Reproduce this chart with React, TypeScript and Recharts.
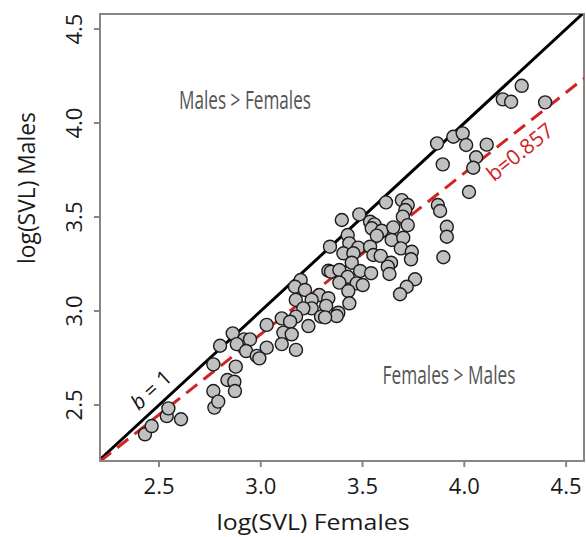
import {
  ScatterChart,
  Scatter,
  XAxis,
  YAxis,
  ReferenceLine,
  ReferenceArea,
  Customized
} from "recharts";

// log(SVL) per species
const femalesSVL = [
  4.282, 4.189, 4.23, 4.397, 3.866, 3.946, 3.992, 4.009, 4.11, 4.058,
  4.044, 3.894, 4.023, 3.615, 3.693, 3.722, 3.71, 3.698, 3.722, 3.87,
  3.881, 3.914, 3.914, 3.897, 3.484, 3.398, 3.537, 3.558, 3.545, 3.594,
  3.651, 3.57, 3.643, 3.7, 3.688, 3.742, 3.738, 3.427, 3.435, 3.479,
  3.34, 3.406, 3.455, 3.537, 3.553, 3.589, 3.447, 3.64, 3.624, 3.632,
  3.758, 3.717, 3.684, 3.332, 3.345, 3.386, 3.488, 3.542, 3.427, 3.386,
  3.471, 3.501, 3.43, 3.196, 3.168, 3.217, 3.288, 3.332, 3.25, 3.172,
  3.435, 3.321, 3.25, 3.209, 3.381, 3.373, 3.296, 3.316, 3.173, 3.103,
  3.144, 3.234, 3.029, 3.111, 3.152, 3.103, 3.173, 3.029, 2.862, 2.918,
  2.947, 2.882, 2.8, 2.928, 2.98, 2.993, 2.767, 2.877, 2.836, 2.87,
  2.873, 2.767, 2.431, 2.464, 2.538, 2.546, 2.608, 2.772, 2.791
];
const malesSVL = [
  4.198, 4.126, 4.113, 4.11, 3.892, 3.927, 3.945, 3.883, 3.885, 3.818,
  3.762, 3.78, 3.633, 3.578, 3.59, 3.564, 3.537, 3.502, 3.457, 3.564,
  3.532, 3.448, 3.395, 3.286, 3.514, 3.484, 3.475, 3.461, 3.44, 3.427,
  3.445, 3.401, 3.378, 3.39, 3.333, 3.315, 3.275, 3.404, 3.36, 3.337,
  3.342, 3.307, 3.307, 3.342, 3.298, 3.293, 3.257, 3.257, 3.236, 3.197,
  3.169, 3.129, 3.089, 3.214, 3.209, 3.218, 3.213, 3.201, 3.182, 3.151,
  3.147, 3.138, 3.106, 3.165, 3.129, 3.112, 3.085, 3.068, 3.059, 3.059,
  3.041, 3.027, 3.014, 3.014, 2.991, 2.973, 2.97, 2.966, 2.97, 2.961,
  2.943, 2.92, 2.926, 2.885, 2.876, 2.824, 2.793, 2.805, 2.881, 2.849,
  2.849, 2.824, 2.815, 2.787, 2.761, 2.748, 2.716, 2.704, 2.633, 2.624,
  2.574, 2.574, 2.344, 2.388, 2.441, 2.482, 2.424, 2.486, 2.518
];
const axisTicks = [2.5, 3.0, 3.5, 4.0, 4.5];
const xDomain = [2.21, 4.588];
const yDomain = [2.202, 4.58];
const fitSlope = 0.857;
const fitIntercept = 0.306;

const points = femalesSVL.map((x, i) => ({ x, y: malesSVL[i] }));

const FONT = "'Open Sans', sans-serif";
const AXIS = "#8a8585";
const RED = "#d02424";

function Dot(props: any) {
  const { cx, cy } = props;
  return <circle cx={cx} cy={cy} r={6.5} fill="#c0c0c0" stroke="#1c1c1c" strokeWidth={1.4} />;
}

function XTick(props: any) {
  const { x, y, payload } = props;
  return (
    <text x={x} y={y + 25} textAnchor="middle" fontFamily={FONT} fontSize={22} fill="#1a1a1a">
      {payload.value.toFixed(1)}
    </text>
  );
}

function YTick(props: any) {
  const { x, y, payload } = props;
  const cx = x - 18;
  return (
    <text
      x={cx}
      y={y}
      dy="0.36em"
      transform={`rotate(-90, ${cx}, ${y})`}
      textAnchor="middle"
      fontFamily={FONT}
      fontSize={22}
      fill="#1a1a1a"
    >
      {payload.value.toFixed(1)}
    </text>
  );
}

function Annotations() {
  return (
    <g fontFamily={FONT}>
      <text x={313} y={530} textAnchor="middle" fontSize={22} fill="#1a1a1a" textLength={193} lengthAdjust="spacingAndGlyphs">
        log(SVL) Females
      </text>
      <text
        x={28}
        y={188}
        dy="0.3em"
        transform="rotate(-90, 28, 188)"
        textAnchor="middle"
        fontSize={23}
        fill="#1a1a1a"
        textLength={152}
        lengthAdjust="spacingAndGlyphs"
      >
        log(SVL) Males
      </text>
      <text x={245} y={109} textAnchor="middle" fontSize={26} fill="#555" textLength={132} lengthAdjust="spacingAndGlyphs">
        Males &gt; Females
      </text>
      <text x={449} y={384} textAnchor="middle" fontSize={26} fill="#555" textLength={133} lengthAdjust="spacingAndGlyphs">
        Females &gt; Males
      </text>
      <text x={151} y={390} dy="0.35em" transform="rotate(-42.7, 151, 390)" textAnchor="middle" fontSize={21} fill="#111">
        <tspan fontStyle="italic">b</tspan> = 1
      </text>
      <text x={520} y={152} dy="0.35em" transform="rotate(-38.6, 520, 152)" textAnchor="middle" fontSize={21} fill={RED}>
        b=0.857
      </text>
    </g>
  );
}

export default function App() {
  return (
    <div style={{ position: "absolute", left: 0, top: 0, width: 586, height: 537, background: "#fff" }}>
      <ScatterChart width={586} height={537} margin={{ top: 14, right: 2, bottom: 0, left: 0 }}>
        <XAxis
          type="number"
          dataKey="x"
          domain={xDomain}
          ticks={axisTicks}
          allowDataOverflow
          height={76}
          axisLine={{ stroke: AXIS, strokeWidth: 2 }}
          tickLine={{ stroke: AXIS, strokeWidth: 2 }}
          tickSize={6}
          tick={<XTick />}
        />
        <YAxis
          type="number"
          dataKey="y"
          domain={yDomain}
          ticks={axisTicks}
          allowDataOverflow
          width={100}
          axisLine={{ stroke: AXIS, strokeWidth: 2 }}
          tickLine={{ stroke: AXIS, strokeWidth: 2 }}
          tickSize={6}
          tick={<YTick />}
        />
        <ReferenceArea
          x1={xDomain[0]}
          x2={xDomain[1]}
          y1={yDomain[0]}
          y2={yDomain[1]}
          fill="none"
          stroke={AXIS}
          strokeWidth={2}
          ifOverflow="visible"
        />
        <ReferenceLine
          segment={[
            { x: xDomain[0], y: xDomain[0] },
            { x: yDomain[1], y: yDomain[1] }
          ]}
          stroke="#000"
          strokeWidth={3}
          ifOverflow="hidden"
        />
        <ReferenceLine
          segment={[
            { x: xDomain[0], y: fitSlope * xDomain[0] + fitIntercept },
            { x: xDomain[1], y: fitSlope * xDomain[1] + fitIntercept }
          ]}
          stroke={RED}
          strokeWidth={3}
          strokeDasharray="14 8"
          ifOverflow="hidden"
        />
        <Scatter data={points} shape={<Dot />} isAnimationActive={false} />
        <Customized component={Annotations} />
      </ScatterChart>
    </div>
  );
}
